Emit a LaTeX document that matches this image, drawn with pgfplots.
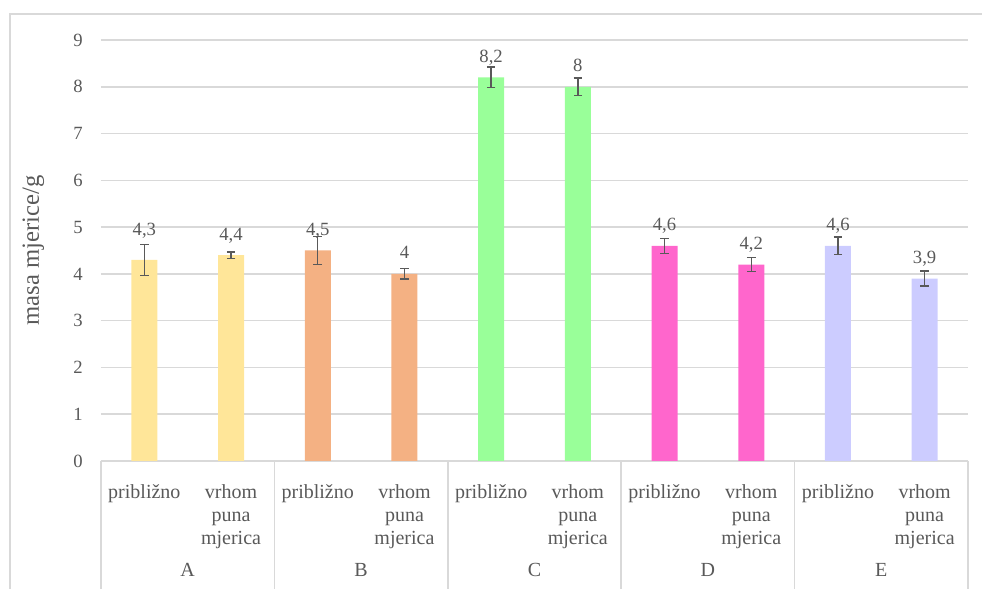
\documentclass[border=0pt]{standalone}
\usepackage{fontspec}
\setmainfont{Liberation Serif}
\usepackage{pgfplots}
\pgfplotsset{compat=1.18}

\definecolor{txt}{HTML}{595959}
\definecolor{gridc}{HTML}{D9D9D9}
\definecolor{cA}{HTML}{FFE699}
\definecolor{cB}{HTML}{F4B183}
\definecolor{cC}{HTML}{99FF99}
\definecolor{cD}{HTML}{FF66CC}
\definecolor{cE}{HTML}{CCCCFF}

\pgfplotsset{
  barser/.style={
    draw=none, fill=#1,
    error bars/.cd, y dir=both, y explicit,
    error bar style={txt, line width=1.1pt},
    error mark options={rotate=90, mark size=3.2pt, line width=1.1pt, txt},
  },
}

\begin{document}
\begin{tikzpicture}
\useasboundingbox (0,0) rectangle (736.5pt,441.75pt);
% outer frame
\draw[gridc, line width=1pt] (7.5pt,-5pt) -- (7.5pt,431.25pt) -- (745pt,431.25pt);

\begin{axis}[
  at={(75.75pt,96pt)}, anchor=south west,
  scale only axis,
  width=650.25pt, height=315.75pt,
  ybar, bar width=19.5pt, bar shift=0pt,
  xmin=-0.5, xmax=9.5,
  ymin=0, ymax=9,
  ytick={0,1,...,9},
  xtick={0,1,...,9},
  xticklabels={približno,{vrhom\\puna\\mjerica},
               približno,{vrhom\\puna\\mjerica},
               približno,{vrhom\\puna\\mjerica},
               približno,{vrhom\\puna\\mjerica},
               približno,{vrhom\\puna\\mjerica}},
  axis line style={draw=none},
  tick style={draw=none},
  ymajorgrids,
  grid style={gridc, line width=1.1pt},
  /pgf/number format/assume math mode=true,
  yticklabel style={font=\fontsize{14}{16}\selectfont, text=txt, inner sep=0pt, xshift=-13.5pt},
  xticklabel style={font=\fontsize{15}{17.25}\selectfont, text=txt, align=center, anchor=north, inner sep=0pt, yshift=-13.5pt},
  ylabel={masa mjerice/g},
  ylabel style={font=\fontsize{18.5}{20}\selectfont, text=txt, at={(axis description cs:-0.078,0.5)}, anchor=center},
  clip=false,
  nodes near coords={\pgfplotspointmeta},
  point meta=explicit symbolic,
  visualization depends on={value \thisrow{dy} \as \dy},
  every node near coord/.append style={font=\fontsize{14}{16}\selectfont, text=txt, anchor=base, inner sep=0pt, yshift=\dy pt},
]

\addplot+[barser=cA] table[x=x, y=y, y error=err, meta=lbl] {
x y err dy lbl
0 4.3 0.33 18 4,3
1 4.4 0.07 11.25 4,4
};
\addplot+[barser=cB] table[x=x, y=y, y error=err, meta=lbl] {
x y err dy lbl
2 4.5 0.30 11.25 4,5
3 4.0 0.11 11.25 4
};
\addplot+[barser=cC] table[x=x, y=y, y error=err, meta=lbl] {
x y err dy lbl
4 8.2 0.22 11.25 8,2
5 8.0 0.19 11.25 8
};
\addplot+[barser=cD] table[x=x, y=y, y error=err, meta=lbl] {
x y err dy lbl
6 4.6 0.16 11.25 4,6
7 4.2 0.15 11.25 4,2
};
\addplot+[barser=cE] table[x=x, y=y, y error=err, meta=lbl] {
x y err dy lbl
8 4.6 0.19 11.25 4,6
9 3.9 0.16 11.25 3,9
};

% group separators
\pgfplotsinvokeforeach{-0.5,1.5,3.5,5.5,7.5,9.5}{
  \draw[gridc, line width=1.1pt] (axis cs:#1,0) -- ([yshift=-100pt]axis cs:#1,0);
}
% group names
\node[font=\fontsize{15}{17}\selectfont, text=txt, anchor=base] at ([yshift=-87pt]axis cs:0.5,0) {A};
\node[font=\fontsize{15}{17}\selectfont, text=txt, anchor=base] at ([yshift=-87pt]axis cs:2.5,0) {B};
\node[font=\fontsize{15}{17}\selectfont, text=txt, anchor=base] at ([yshift=-87pt]axis cs:4.5,0) {C};
\node[font=\fontsize{15}{17}\selectfont, text=txt, anchor=base] at ([yshift=-87pt]axis cs:6.5,0) {D};
\node[font=\fontsize{15}{17}\selectfont, text=txt, anchor=base] at ([yshift=-87pt]axis cs:8.5,0) {E};
\end{axis}
\end{tikzpicture}
\end{document}
